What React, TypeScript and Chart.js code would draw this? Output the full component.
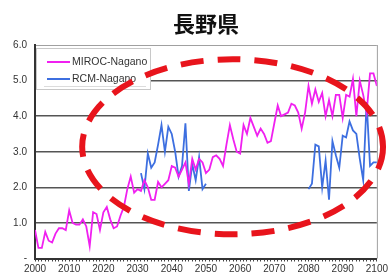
import React, { useEffect, useRef } from "react";
import { Chart, registerables } from "chart.js";

Chart.register(...registerables);

const TITLE = "長野県";
const MIROC_LABEL = "MIROC-Nagano";
const RCM_LABEL = "RCM-Nagano";

const MIROC_START = 2000;
const mirocValues = [
  0.8, 0.3, 0.3, 0.75, 0.5, 0.45, 0.7, 0.85, 0.85, 0.8,
  1.35, 1.0, 0.95, 0.95, 1.1, 0.9, 0.35, 1.3, 1.25, 0.8,
  1.3, 1.45, 1.1, 0.85, 0.9, 1.2, 1.45, 1.95, 2.3, 1.85,
  1.95, 1.9, 2.2, 2.0, 1.65, 1.65, 2.15, 2.0, 2.1, 2.2,
  2.6, 2.55, 2.3, 2.5, 2.7, 2.1, 2.8, 2.5, 2.8, 2.7,
  2.4, 2.5, 2.85, 2.9, 2.8, 2.6, 3.2, 3.75, 3.35, 3.0,
  2.95, 3.75, 3.5, 3.95, 3.7, 3.45, 3.65, 3.5, 3.25, 3.3,
  3.8, 4.3, 4.0, 4.05, 4.1, 4.35, 4.3, 4.1, 3.65, 4.1,
  4.85, 4.35, 4.75, 4.4, 4.65, 4.0, 4.45, 4.0, 4.6, 4.6,
  3.95, 4.6, 4.55, 5.05, 4.0, 5.0, 4.6, 4.1, 5.2, 5.2,
  4.85,
];

const RCM_A_START = 2031;
const rcmValuesA = [
  2.4, 1.95, 2.95, 2.55, 2.7, 3.2, 3.75, 3.0, 3.7, 3.5,
  3.0, 2.3, 2.6, 3.8, 1.9, 2.65, 2.2, 2.85, 1.95, 2.1,
];
const RCM_B_START = 2080;
const rcmValuesB = [
  1.95, 2.1, 3.2, 3.15, 2.0, 2.75, 1.65, 3.3, 2.9, 2.55,
  3.45, 3.4, 3.85, 3.6, 3.5, 2.8, 2.2, 4.4, 2.6, 2.7,
  2.7,
];

const X_MIN = 2000;
const X_MAX = 2100;
const Y_MIN = 0;
const Y_MAX = 6;

// highlight ellipse in data units
const ELLIPSE_CENTER_YEAR = 2057.8;
const ELLIPSE_CENTER_VALUE = 3.14;
const ELLIPSE_RADIUS_YEARS = 44;
const ELLIPSE_RADIUS_VALUE = 2.46;

const toPoints = (start: number, vals: number[]) =>
  vals.map((v, i) => ({ x: start + i, y: v }));

const FONT = "'Liberation Sans', Arial, sans-serif";

const decorPlugin = {
  id: "decor",
  beforeDatasetsDraw(chart: any) {
    const { ctx, chartArea } = chart;
    ctx.save();
    ctx.strokeStyle = "#a0a0a0";
    ctx.lineWidth = 1;
    ctx.beginPath();
    ctx.moveTo(chartArea.right + 0.5, chartArea.top);
    ctx.lineTo(chartArea.right + 0.5, chartArea.bottom);
    ctx.stroke();
    ctx.restore();
  },
  afterDatasetsDraw(chart: any) {
    const { ctx, chartArea } = chart;
    const xs = chart.scales.x;
    const ys = chart.scales.y;
    // title
    ctx.save();
    ctx.fillStyle = "#111";
    ctx.font = "bold 22px 'Noto Sans CJK JP', sans-serif";
    ctx.textAlign = "center";
    ctx.textBaseline = "middle";
    ctx.fillText(TITLE, (chartArea.left + chartArea.right) / 2, 24);
    ctx.restore();

    // legend box
    const lx = chartArea.left + 1;
    const ly = chartArea.top + 3;
    const lw = 114;
    const lh = 41;
    ctx.save();
    ctx.fillStyle = "#ffffff";
    ctx.fillRect(lx, ly, lw, lh);
    ctx.strokeStyle = "#c8c8c8";
    ctx.lineWidth = 1;
    ctx.strokeRect(lx + 0.5, ly + 0.5, lw, lh);
    ctx.strokeStyle = "#dcdcdc";
    ctx.beginPath();
    ctx.moveTo(lx + 8, ly + lh - 2.5);
    ctx.lineTo(lx + lw - 4, ly + lh - 2.5);
    ctx.stroke();
    const items = [
      { label: MIROC_LABEL, color: "#f020f0", y: ly + 14 },
      { label: RCM_LABEL, color: "#3d6fe0", y: ly + 31 },
    ];
    ctx.font = `10.5px ${FONT}`;
    ctx.textBaseline = "middle";
    ctx.textAlign = "left";
    for (const it of items) {
      ctx.strokeStyle = it.color;
      ctx.lineWidth = 2;
      ctx.beginPath();
      ctx.moveTo(lx + 11, it.y);
      ctx.lineTo(lx + 34, it.y);
      ctx.stroke();
      ctx.fillStyle = "#333";
      ctx.fillText(it.label, lx + 36, it.y);
    }
    ctx.restore();

    // dashed ellipse
    const cx = xs.getPixelForValue(ELLIPSE_CENTER_YEAR);
    const cy = ys.getPixelForValue(ELLIPSE_CENTER_VALUE);
    const rx = xs.getPixelForValue(ELLIPSE_CENTER_YEAR + ELLIPSE_RADIUS_YEARS) - cx;
    const ry = cy - ys.getPixelForValue(ELLIPSE_CENTER_VALUE + ELLIPSE_RADIUS_VALUE);
    ctx.save();
    ctx.strokeStyle = "#e8141c";
    ctx.lineWidth = 6;
    ctx.setLineDash([23, 14]);
    ctx.beginPath();
    ctx.ellipse(cx, cy, rx, ry, 0, 0, Math.PI * 2);
    ctx.stroke();
    ctx.restore();
  },
};

export default function App() {
  const canvasRef = useRef<HTMLCanvasElement | null>(null);

  useEffect(() => {
    document.body.style.margin = "0";
    const canvas = canvasRef.current;
    if (!canvas) return;
    const chart = new Chart(canvas, {
      type: "line",
      data: {
        datasets: [
          {
            label: MIROC_LABEL,
            data: toPoints(MIROC_START, mirocValues),
            borderColor: "#f020f0",
            borderWidth: 1.8,
            pointRadius: 0,
            tension: 0,
          },
          {
            label: RCM_LABEL,
            data: [
              ...toPoints(RCM_A_START, rcmValuesA),
              { x: 2065, y: null },
              ...toPoints(RCM_B_START, rcmValuesB),
            ],
            borderColor: "#3d6fe0",
            borderWidth: 1.8,
            pointRadius: 0,
            tension: 0,
            spanGaps: false,
          },
        ],
      },
      options: {
        animation: false,
        responsive: false,
        maintainAspectRatio: false,
        layout: { padding: { top: 45, right: 10, left: 0, bottom: 0 } },
        plugins: {
          legend: { display: false },
          title: { display: false },
          tooltip: { enabled: false },
        },
        scales: {
          x: {
            type: "linear",
            min: X_MIN,
            max: X_MAX,
            afterFit: (s: any) => {
              s.height = 18.5;
            },
            afterBuildTicks: (s: any) => {
              const t: any[] = [];
              for (let v = X_MIN; v <= X_MAX; v++) t.push({ value: v });
              s.ticks = t;
            },
            ticks: {
              autoSkip: false,
              maxRotation: 0,
              padding: 2,
              color: "#333",
              font: { size: 10, family: FONT },
              callback: (v: any) => (Number(v) % 10 === 0 ? String(v) : ""),
            },
            grid: {
              drawOnChartArea: false,
              drawTicks: true,
              tickLength: 3,
              color: "#444",
              lineWidth: 1,
            },
            border: { color: "#333", width: 2 },
          },
          y: {
            min: Y_MIN,
            max: Y_MAX,
            afterFit: (s: any) => {
              s.width = 35;
            },
            ticks: {
              stepSize: 1,
              padding: 8,
              color: "#333",
              font: { size: 10, family: FONT },
              callback: (v: any) => (Number(v) === 0 ? "-" : Number(v).toFixed(1)),
            },
            grid: {
              drawTicks: false,
              color: (c: any) => (c.tick && c.tick.value === Y_MAX ? "#a0a0a0" : "#555"),
              lineWidth: (c: any) => (c.tick && c.tick.value === Y_MAX ? 1 : 1.6),
            },
            border: { color: "#333", width: 2 },
          },
        },
      },
      plugins: [decorPlugin],
    });
    return () => chart.destroy();
  }, []);

  return (
    <div style={{ position: "absolute", left: 0, top: 0, width: 390, height: 277, background: "#fff" }}>
      <canvas ref={canvasRef} width={390} height={277} style={{ display: "block" }} />
    </div>
  );
}
